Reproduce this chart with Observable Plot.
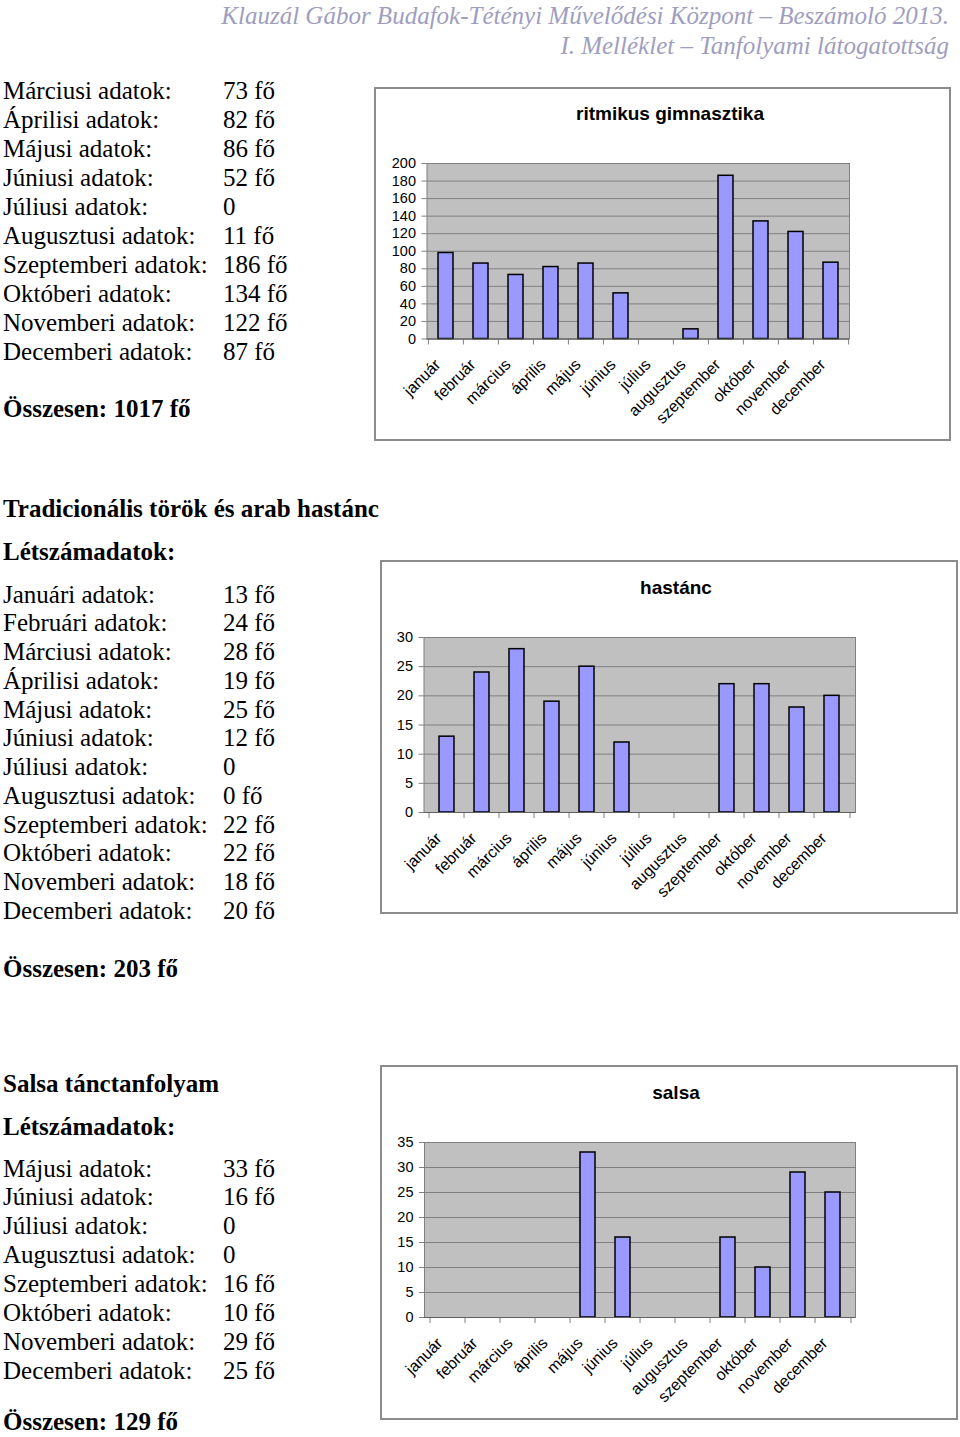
<!DOCTYPE html>
<html><head><meta charset="utf-8">
<script src="https://cdn.jsdelivr.net/npm/d3@7"></script>
<script src="https://cdn.jsdelivr.net/npm/@observablehq/plot@0.6"></script>
<style>
html,body{margin:0;padding:0;background:#fff}
body{width:960px;height:1437px;position:relative;overflow:hidden}
.t{position:absolute;font-family:"Liberation Serif","Times New Roman",serif;font-size:25px;line-height:29px;height:29px;color:#000;white-space:pre}
.b{font-weight:bold}
.hdr{position:absolute;text-align:right;font-family:"Liberation Serif","Times New Roman",serif;font-style:italic;font-size:25px;line-height:30px;color:#a09ec0;white-space:pre}
.box{position:absolute;border:2px solid #8c8c8c;box-sizing:border-box;background:#fff}
.ctitle{position:absolute;width:400px;text-align:center;font-family:"Liberation Sans",Arial,sans-serif;font-weight:bold;font-size:19px;line-height:22px}
svg{position:absolute}
</style></head><body>
<script>
// ---------- data ----------
const months = ["január","február","március","április","május","június","július","augusztus","szeptember","október","november","december"];
const monthAdj = ["Januári","Februári","Márciusi","Áprilisi","Májusi","Júniusi","Júliusi","Augusztusi","Szeptemberi","Októberi","Novemberi","Decemberi"];
const ritmikusValues = [98, 86, 73, 82, 86, 52, 0, 11, 186, 134, 122, 87];
const hastancValues  = [13, 24, 28, 19, 25, 12, 0, 0, 22, 22, 18, 20];
const salsaValues    = [0, 0, 0, 0, 33, 16, 0, 0, 16, 10, 29, 25];
const ritmikusTicks = [0, 20, 40, 60, 80, 100, 120, 140, 160, 180, 200];
const hastancTicks  = [0, 5, 10, 15, 20, 25, 30];
const salsaTicks    = [0, 5, 10, 15, 20, 25, 30, 35];
const ritmikusTitle = "ritmikus gimnasztika";
const hastancTitle = "hastánc";
const salsaTitle = "salsa";
const headerLines = ["Klauzál Gábor Budafok-Tétényi Művelődési Központ – Beszámoló 2013.", "I. Melléklet – Tanfolyami látogatottság"];
const ritmikusListMonths = [2,3,4,5,6,7,8,9,10,11];
const hastancListMonths = [0,1,2,3,4,5,6,7,8,9,10,11];
const salsaListMonths = [4,5,6,7,8,9,10,11];
const hastancZeroWithUnit = [7];
const ritmikusTotal = "Összesen: 1017 fő";
const hastancHeading = "Tradicionális török és arab hastánc";
const hastancTotal = "Összesen: 203 fő";
const salsaHeading = "Salsa tánctanfolyam";
const salsaTotal = "Összesen: 129 fő";
const countHeading = "Létszámadatok:";

// ---------- layout ----------
const body = document.body;
function addText(txt, x, yc, cls) {
  const d = document.createElement("div");
  d.className = "t" + (cls ? " " + cls : "");
  d.style.left = x + "px";
  d.style.top = (yc - 14.5) + "px";
  d.textContent = txt;
  body.appendChild(d);
}
headerLines.forEach((s, i) => {
  const d = document.createElement("div");
  d.className = "hdr";
  d.style.right = "11px";
  d.style.top = (1 + i * 30) + "px";
  d.textContent = s;
  body.appendChild(d);
});

function valueText(v, forceUnit) { return (v === 0 && !forceUnit) ? "0" : v + " fő"; }
function addList(idx, values, y0, step, unitZero) {
  idx.forEach((mi, k) => {
    const y = y0 + k * step;
    addText(monthAdj[mi] + " adatok:", 3, y);
    addText(valueText(values[mi], unitZero && unitZero.includes(mi)), 223, y);
  });
}
addList(ritmikusListMonths, ritmikusValues, 90, 29);
addText(ritmikusTotal, 3, 408, "b");
addText(hastancHeading, 3, 508, "b");
addText(countHeading, 3, 551, "b");
addList(hastancListMonths, hastancValues, 594, 28.75, hastancZeroWithUnit);
addText(hastancTotal, 3, 968, "b");
addText(salsaHeading, 3, 1083, "b");
addText(countHeading, 3, 1126, "b");
addList(salsaListMonths, salsaValues, 1168, 28.9);
addText(salsaTotal, 3, 1421, "b");

function drawChart(cfg, values, ticks, title) {
  const box = document.createElement("div");
  box.className = "box";
  box.style.left = cfg.box.l + "px"; box.style.top = cfg.box.t + "px";
  box.style.width = (cfg.box.r - cfg.box.l) + "px"; box.style.height = (cfg.box.b - cfg.box.t) + "px";
  body.appendChild(box);
  const tt = document.createElement("div");
  tt.className = "ctitle";
  tt.style.left = (cfg.titleX - 200) + "px"; tt.style.top = (cfg.titleY - 11) + "px";
  tt.textContent = title;
  body.appendChild(tt);

  const data = months.map((m, i) => ({month: m, value: values[i]}));
  const svgTop = cfg.plot.t - 20;
  const width = cfg.box.r - cfg.box.l;
  const height = cfg.box.b - 4 - svgTop;
  const mt = cfg.plot.t - svgTop, mb = height - (cfg.plot.b - svgTop);
  const ml = cfg.plot.l - cfg.box.l, mr = cfg.box.r - cfg.plot.r;
  const step = (cfg.plot.r - cfg.plot.l) / months.length;
  const ymax = ticks[ticks.length - 1];
  const tickLen = 6 * ymax / (cfg.plot.b - cfg.plot.t);
  const chart = Plot.plot({
    width, height, marginTop: mt, marginBottom: mb, marginLeft: ml, marginRight: mr,
    style: {fontFamily: "'Liberation Sans', Arial, sans-serif", fontSize: "14px", color: "#000", background: "transparent", overflow: "visible"},
    x: {domain: months, paddingInner: 0.58, paddingOuter: 0.29, axis: null, label: null},
    y: {domain: [0, ymax], axis: null, label: null},
    marks: [
      Plot.frame({fill: "#c0c0c0", stroke: "none"}),
      Plot.gridY(ticks, {stroke: "#808080", strokeOpacity: 1, strokeWidth: 1}),
      Plot.ruleX(months, {x: d => d, dx: -step / 2, y1: 0, y2: -tickLen, stroke: "#808080"}),
      Plot.ruleX(months.slice(-1), {x: d => d, dx: step / 2, y1: 0, y2: -tickLen, stroke: "#808080"}),
      Plot.frame({stroke: "#808080", fill: "none"}),
      Plot.axisY(ticks, {label: null, tickSize: 5, tickPadding: 6, stroke: "#808080", fill: "#000", fontSize: 14.5, tickFormat: d => String(d)}),
      Plot.axisX({label: null, tickSize: 0, tickRotate: -45, tickPadding: 23, dx: -8, fontSize: 16, fill: "#000"}),
      Plot.barY(data, {filter: d => d.value > 0, x: "month", y: "value", fill: "#9999ff", stroke: "#000", strokeWidth: 1.5}),
      Plot.ruleY([0], {stroke: "#606060"})
    ]
  });
  chart.style.left = cfg.box.l + "px";
  chart.style.top = svgTop + "px";
  body.appendChild(chart);
}

drawChart({box: {l: 374, t: 87, r: 951, b: 441}, plot: {l: 426.5, r: 849, t: 162.5, b: 338}, titleX: 670, titleY: 114}, ritmikusValues, ritmikusTicks, ritmikusTitle);
drawChart({box: {l: 380, t: 560, r: 958, b: 914}, plot: {l: 423.5, r: 855, t: 636.5, b: 811.5}, titleX: 676, titleY: 588}, hastancValues, hastancTicks, hastancTitle);
drawChart({box: {l: 380, t: 1065, r: 958, b: 1420}, plot: {l: 424, r: 855, t: 1141.5, b: 1316.5}, titleX: 676, titleY: 1093}, salsaValues, salsaTicks, salsaTitle);
</script>
</body></html>
